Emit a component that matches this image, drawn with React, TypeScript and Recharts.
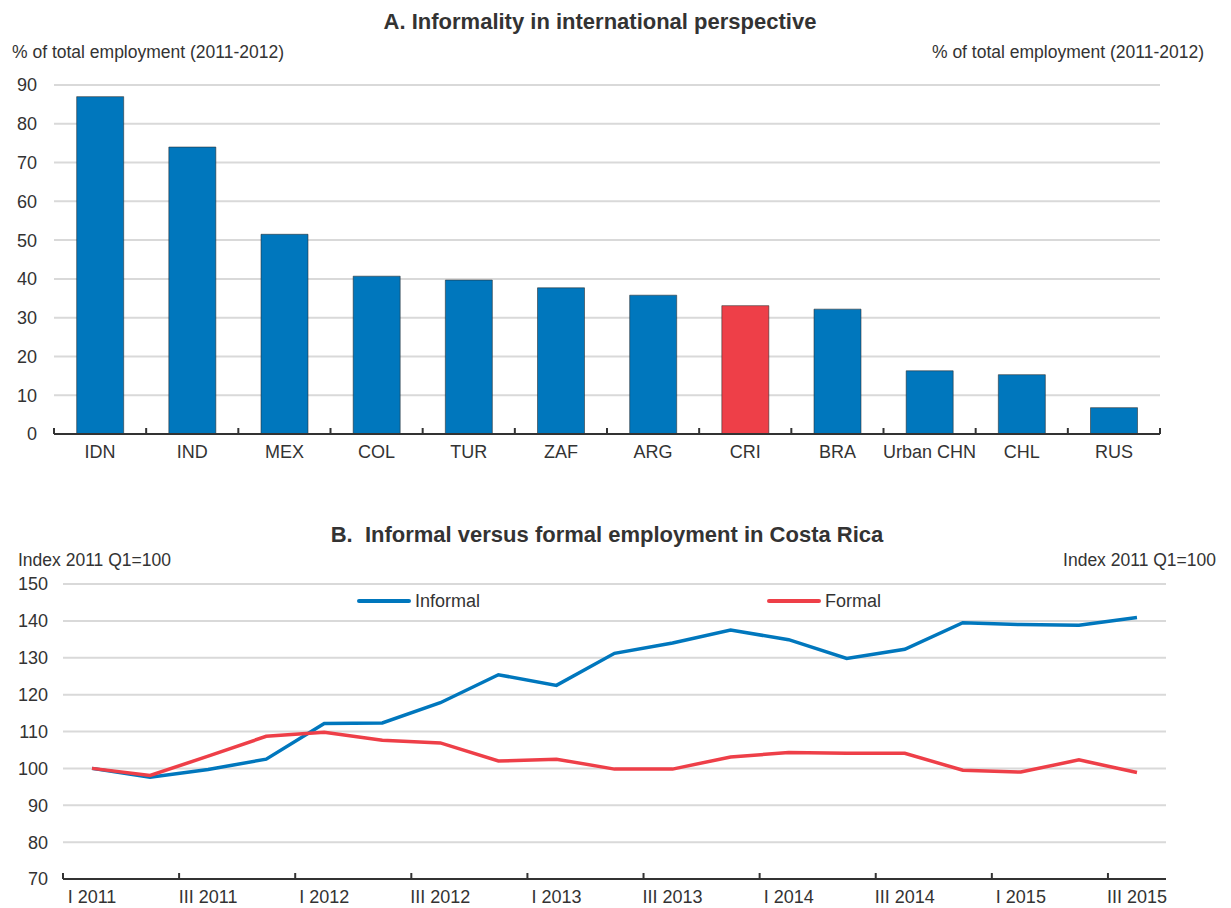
import React from 'react';
import {
  BarChart,
  Bar,
  Cell,
  XAxis,
  YAxis,
  CartesianGrid,
  ComposedChart,
  Line,
  Legend,
} from 'recharts';

const FONT = "'Liberation Sans', Arial, Helvetica, sans-serif";
const TEXT = '#333333';
const BLUE = '#0077bd';
const RED = '#ee3f48';
const GRID = '#d9d9d9';
const AXIS = '#333333';

// Panel A
const countries = ['IDN', 'IND', 'MEX', 'COL', 'TUR', 'ZAF', 'ARG', 'CRI', 'BRA', 'Urban CHN', 'CHL', 'RUS'];
const informality = [87, 74, 51.5, 40.7, 39.7, 37.7, 35.8, 33.1, 32.2, 16.3, 15.3, 6.8];
const highlighted = ['CRI'];
const panelATicks = [0, 10, 20, 30, 40, 50, 60, 70, 80, 90];

// Panel B
const quarters = [
  'I 2011', 'II 2011', 'III 2011', 'IV 2011',
  'I 2012', 'II 2012', 'III 2012', 'IV 2012',
  'I 2013', 'II 2013', 'III 2013', 'IV 2013',
  'I 2014', 'II 2014', 'III 2014', 'IV 2014',
  'I 2015', 'II 2015', 'III 2015',
];
const informal = [100, 97.6, 99.7, 102.5, 112.2, 112.3, 117.8, 125.4, 122.5, 131.2, 134, 137.5, 134.9, 129.8, 132.3, 139.5, 139.0, 138.8, 140.9];
const formal = [100, 98.1, 103.3, 108.7, 109.8, 107.6, 106.9, 102.0, 102.5, 99.8, 99.8, 103.1, 104.3, 104.1, 104.1, 99.5, 99.0, 102.3, 98.9];
const panelBTicks = [70, 80, 90, 100, 110, 120, 130, 140, 150];

const dataA = countries.map((c, i) => ({ country: c, value: informality[i] }));
const dataB = quarters.map((q, i) => ({ q, informal: informal[i], formal: formal[i] }));

const BandTick = (props: any) => {
  const { x, y, payload, drawEnd, count } = props;
  const half = payload && typeof payload.offset === 'number' ? payload.offset : 0;
  const isLast = drawEnd && payload.index === count - 1;
  return (
    <g>
      <line x1={x - half} x2={x - half} y1={y} y2={y - 6} stroke={AXIS} strokeWidth={2} />
      {isLast ? <line x1={x + half} x2={x + half} y1={y} y2={y - 6} stroke={AXIS} strokeWidth={2} /> : null}
      <text
        x={x}
        y={y + 18}
        textAnchor="middle"
        dominantBaseline="central"
        fill={TEXT}
        fontSize={18}
        fontFamily={FONT}
      >
        {payload.value}
      </text>
    </g>
  );
};

const tickStyle = { fill: TEXT, fontSize: 18, fontFamily: FONT };

const LEGEND_X: Record<string, number> = { Informal: 357, Formal: 767 };
const LegendContent = (props: any) => {
  const payload = props.payload || [];
  return (
    <div style={{ position: 'relative', width: 1231, height: 24 }}>
      {payload.map((p: any) => (
        <div
          key={p.value}
          style={{ position: 'absolute', left: LEGEND_X[p.value] ?? 0, top: 0, height: 24, display: 'flex', alignItems: 'center' }}
        >
          <svg width={54} height={8}>
            <line x1={2} y1={4} x2={52} y2={4} stroke={p.color} strokeWidth={4} strokeLinecap="round" />
          </svg>
          <span style={{ marginLeft: 4, fontSize: 18, fontFamily: FONT, color: TEXT }}>{p.value}</span>
        </div>
      ))}
    </div>
  );
};

const titleStyle: React.CSSProperties = {
  position: 'absolute',
  fontFamily: FONT,
  fontWeight: 'bold',
  fontSize: 22,
  color: TEXT,
  textAlign: 'center',
  whiteSpace: 'pre',
  lineHeight: '26px',
};
const unitStyle: React.CSSProperties = {
  position: 'absolute',
  fontFamily: FONT,
  fontSize: 17.5,
  color: TEXT,
  whiteSpace: 'pre',
  lineHeight: '24px',
};

export default function App() {
  return (
    <div style={{ position: 'absolute', left: 0, top: 0, width: 1231, height: 908, background: '#fff', overflow: 'hidden' }}>
      <div style={{ ...titleStyle, left: 0, width: 1200, top: 9 }}>A. Informality in international perspective</div>
      <div style={{ ...unitStyle, left: 12, top: 40 }}>% of total employment (2011-2012)</div>
      <div style={{ ...unitStyle, right: 1231 - 1204, top: 40 }}>% of total employment (2011-2012)</div>

      <div style={{ position: 'absolute', left: 0, top: 0 }}>
        <BarChart
          width={1231}
          height={470}
          data={dataA}
          margin={{ top: 85, right: 21, bottom: 6, left: 14 }}
          barCategoryGap="24.6%"
        >
          <CartesianGrid horizontal vertical={false} stroke={GRID} strokeWidth={2} yAxisId="left" />
          <XAxis
            dataKey="country"
            interval={0}
            height={30}
            tickLine={false}
            tickSize={0}
            tickMargin={0}
            axisLine={{ stroke: AXIS, strokeWidth: 2 }}
            tick={<BandTick drawEnd count={countries.length} />}
          />
          <YAxis
            yAxisId="left"
            orientation="left"
            width={40}
            domain={[0, 90]}
            ticks={panelATicks}
            axisLine={false}
            tickLine={false}
            tickSize={0}
            tickMargin={17}
            tick={tickStyle}
          />
          <YAxis
            yAxisId="right"
            orientation="right"
            width={50}
            domain={[0, 90]}
            ticks={panelATicks}
            axisLine={false}
            tickLine={false}
            tickSize={0}
            tickMargin={18}
            tick={tickStyle}
          />
          <Bar dataKey="value" yAxisId="left" isAnimationActive={false} stroke="rgba(40,40,40,0.55)" strokeWidth={1}>
            {dataA.map((d) => (
              <Cell key={d.country} fill={highlighted.includes(d.country) ? RED : BLUE} />
            ))}
          </Bar>
        </BarChart>
      </div>

      <div style={{ ...titleStyle, left: 0, width: 1214, top: 522 }}>{'B.  Informal versus formal employment in Costa Rica'}</div>
      <div style={{ ...unitStyle, left: 18, top: 548 }}>Index 2011 Q1=100</div>
      <div style={{ ...unitStyle, right: 1231 - 1216, top: 548 }}>Index 2011 Q1=100</div>

      <div style={{ position: 'absolute', left: 0, top: 470 }}>
        <ComposedChart
          width={1231}
          height={438}
          data={dataB}
          margin={{ top: 114, right: 15, bottom: 5, left: 15 }}
        >
          <CartesianGrid horizontal vertical={false} stroke={GRID} strokeWidth={2} yAxisId="left" />
          <XAxis
            dataKey="q"
            scale="band"
            interval={1}
            height={24}
            tickLine={false}
            tickSize={0}
            tickMargin={0}
            axisLine={{ stroke: AXIS, strokeWidth: 2 }}
            tick={<BandTick drawEnd={false} count={quarters.length} />}
          />
          <YAxis
            yAxisId="left"
            orientation="left"
            width={48}
            domain={[70, 150]}
            ticks={panelBTicks}
            axisLine={false}
            tickLine={false}
            tickSize={0}
            tickMargin={15}
            tick={tickStyle}
          />
          <YAxis
            yAxisId="right"
            orientation="right"
            width={50}
            domain={[70, 150]}
            ticks={panelBTicks}
            axisLine={false}
            tickLine={false}
            tickSize={0}
            tickMargin={48}
            tick={{ ...tickStyle, textAnchor: 'end' }}
          />
          <Legend
            layout="horizontal"
            verticalAlign="middle"
            align="center"
            wrapperStyle={{ top: 119, left: 0, width: 1231 }}
            content={<LegendContent />}
          />
          <Line
            yAxisId="left"
            type="linear"
            dataKey="informal"
            name="Informal"
            stroke={BLUE}
            strokeWidth={3.5}
            dot={false}
            isAnimationActive={false}
          />
          <Line
            yAxisId="left"
            type="linear"
            dataKey="formal"
            name="Formal"
            stroke={RED}
            strokeWidth={3.5}
            dot={false}
            isAnimationActive={false}
          />
        </ComposedChart>
      </div>
    </div>
  );
}
